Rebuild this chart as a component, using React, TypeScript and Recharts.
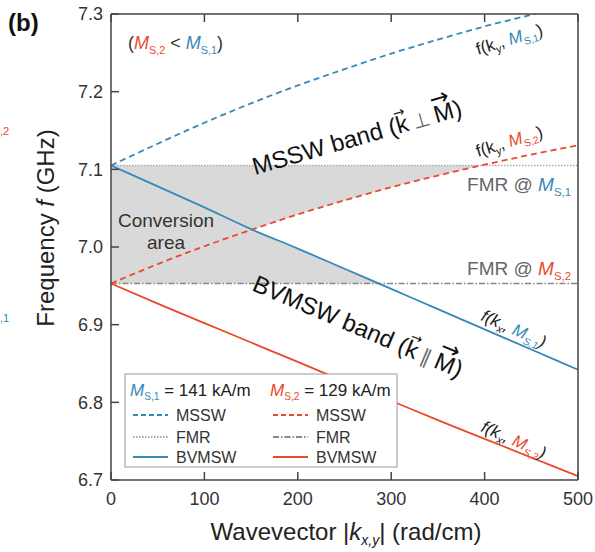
import React from 'react';
import { ComposedChart, Line, Area, XAxis, YAxis } from 'recharts';

// wavevector grid (rad/cm)
const ks = [0, 50, 100, 150, 200, 250, 300, 350, 400, 450, 500];

// dispersion curves (GHz)
const msswM1 = [7.105, 7.133, 7.16, 7.185, 7.208, 7.229, 7.249, 7.267, 7.284, 7.299, 7.313];
const msswM2 = [6.953, 6.978, 7.001, 7.022, 7.042, 7.06, 7.077, 7.092, 7.106, 7.119, 7.131];
const bvmswM1 = [7.105, 7.078, 7.051, 7.023, 6.998, 6.972, 6.946, 6.92, 6.894, 6.868, 6.842];
const bvmswM2 = [6.953, 6.927, 6.902, 6.877, 6.852, 6.827, 6.802, 6.777, 6.753, 6.729, 6.705];

// FMR frequencies
const fmrM1 = 7.105;
const fmrM2 = 6.953;

// BVMSW(Ms1) and MSSW(Ms2) cross here, right of it the band is not shaded
const crossingK = 150;

const xTicks = [0, 100, 200, 300, 400, 500];
const yTicks = [6.7, 6.8, 6.9, 7.0, 7.1, 7.2, 7.3];

const blue = '#3589b8';
const red = '#ea4a2b';
const axisColor = '#444';
const font = '"Liberation Sans", Arial, sans-serif';
const symFont = '"DejaVu Sans", sans-serif';

const data = ks.map((k, i) => ({
  k,
  ms1: msswM1[i],
  ms2: msswM2[i],
  bv1: bvmswM1[i],
  bv2: bvmswM2[i],
  band: [fmrM2, fmrM1],
  gap: k >= crossingK ? [bvmswM1[i], msswM2[i]] : null,
  fmr1: fmrM1,
  fmr2: fmrM2,
}));

const tickStyle = { fontSize: 18, fill: '#333', fontFamily: font };

const Ms = ({ n, color, size, after }: { n: number; color: string; size: number; after?: string }) => (
  <>
    <tspan fill={color} fontStyle="italic">M</tspan>
    <tspan fill={color} fontSize={size * 0.6} dy={size * 0.25}>{`S,${n}`}</tspan>
    {after ? <tspan dy={-size * 0.25}>{after}</tspan> : null}
  </>
);

// "(k <op> M)" with vector arrows over k and M
const BandVectors = ({ op }: { op: string }) => (
  <>
    <tspan>(k</tspan>
    <tspan fontFamily={symFont} fontSize={14} dx={-12} dy={-16}>{'\u2192'}</tspan>
    <tspan fontFamily={symFont} fontSize={20} fill="#666" dx={5} dy={16}>{op}</tspan>
    <tspan dx={5}>M</tspan>
    <tspan fontFamily={symFont} fontSize={23} dx={-20} dy={-16}>{'\u2192'}</tspan>
    <tspan dx={1} dy={16}>)</tspan>
  </>
);

const LegendRow = ({ y, label, dash, color, x }: { y: number; label: string; dash?: string; color: string; x: number }) => (
  <g>
    <line x1={x} x2={x + 35} y1={y} y2={y} stroke={color} strokeWidth={1.8} strokeDasharray={dash} />
    <text x={x + 43} y={y + 6} fontSize={16} fill="#333">{label}</text>
  </g>
);

const Overlay = () => (
  <svg width={595} height={552} style={{ position: 'absolute', left: 0, top: 0, pointerEvents: 'none' }} fontFamily={font}>
    <text x={8} y={31} fontSize={24} fontWeight="bold" fill="#111">(b)</text>
    <text x={0} y={135} fontSize={11} fill={red}>,2</text>
    <text x={0} y={322} fontSize={11} fill={blue}>,1</text>

    <text x={128} y={49} fontSize={18} fill="#333">
      (<Ms n={2} color={red} size={18} after=" < " />
      <Ms n={1} color={blue} size={18} after=")" />
    </text>

    <text transform="translate(255,175) rotate(-16)" fontSize={24} fill="#111">
      MSSW band <BandVectors op={'\u22A5'} />
    </text>
    <text transform="translate(251,290) rotate(23)" fontSize={24} fill="#111">
      BVMSW band <BandVectors op={'\u2225'} />
    </text>

    <text x={166} y={227} fontSize={19} fill="#333" textAnchor="middle">Conversion</text>
    <text x={166} y={249} fontSize={19} fill="#333" textAnchor="middle">area</text>

    <text x={571} y={191} fontSize={19} fill="#666" textAnchor="end">
      FMR @ <Ms n={1} color={blue} size={19} />
    </text>
    <text x={571} y={275} fontSize={19} fill="#666" textAnchor="end">
      FMR @ <Ms n={2} color={red} size={19} />
    </text>

    <text transform="translate(478,55) rotate(-17)" fontSize={17} fill="#222">
      f(k<tspan fontSize={11} dy={4}>y</tspan><tspan dy={-4}>, </tspan><Ms n={1} color={blue} size={17} after=")" />
    </text>
    <text transform="translate(478,157) rotate(-17)" fontSize={17} fill="#222">
      f(k<tspan fontSize={11} dy={4}>y</tspan><tspan dy={-4}>, </tspan><Ms n={2} color={red} size={17} after=")" />
    </text>
    <text transform="translate(480,320) rotate(24)" fontSize={17} fill="#222" fontStyle="italic">
      f(k<tspan fontSize={11} dy={4}>x</tspan><tspan dy={-4}>, </tspan><Ms n={1} color={blue} size={17} after=")" />
    </text>
    <text transform="translate(480,431) rotate(24)" fontSize={17} fill="#222" fontStyle="italic">
      f(k<tspan fontSize={11} dy={4}>x</tspan><tspan dy={-4}>, </tspan><Ms n={2} color={red} size={17} after=")" />
    </text>

    <text x={0} y={0} transform="translate(54,228) rotate(-90)" fontSize={24} fill="#222" textAnchor="middle">
      Frequency <tspan fontStyle="italic">f</tspan> (GHz)
    </text>
    <text x={346} y={540} fontSize={24} fill="#222" textAnchor="middle">
      Wavevector |<tspan fontStyle="italic">k</tspan><tspan fontSize={14} dy={5} fontStyle="italic">x,y</tspan><tspan dy={-5}>| (rad/cm)</tspan>
    </text>

    <g>
      <rect x={125} y={374} width={272} height={93} fill="#fff" stroke="#999" strokeWidth={1} />
      <text x={130} y={396} fontSize={17} fill="#222">
        <Ms n={1} color={blue} size={17} after=" = 141 kA/m" />
      </text>
      <text x={270} y={396} fontSize={17} fill="#222">
        <Ms n={2} color={red} size={17} after=" = 129 kA/m" />
      </text>
      <LegendRow x={133} y={415} label="MSSW" dash="5 3" color={blue} />
      <LegendRow x={133} y={437} label="FMR" dash="1.5 1.5" color="#aaa" />
      <LegendRow x={133} y={457} label="BVMSW" color={blue} />
      <LegendRow x={273} y={415} label="MSSW" dash="5 3" color={red} />
      <LegendRow x={273} y={437} label="FMR" dash="6 2 1.5 2" color="#888" />
      <LegendRow x={273} y={457} label="BVMSW" color={red} />
    </g>
  </svg>
);

export default function App() {
  return (
    <div style={{ position: 'absolute', left: 0, top: 0, width: 595, height: 552, background: '#fff' }}>
      <ComposedChart width={595} height={552} data={data} margin={{ top: 13, right: 16, bottom: 0, left: 0 }}>
        <XAxis
          dataKey="k"
          type="number"
          domain={[0, 500]}
          ticks={xTicks}
          height={72}
          tickSize={-8}
          tickMargin={20}
          tick={tickStyle}
          stroke={axisColor}
          strokeWidth={1.5}
        />
        <XAxis
          xAxisId="top"
          dataKey="k"
          type="number"
          orientation="top"
          domain={[0, 500]}
          ticks={xTicks}
          height={1}
          tickSize={-8}
          tickFormatter={() => ''}
          stroke={axisColor}
          strokeWidth={1.5}
        />
        <YAxis
          type="number"
          domain={[6.7, 7.3]}
          ticks={yTicks}
          allowDataOverflow
          width={111}
          tickSize={-8}
          tickMargin={16}
          tick={tickStyle}
          tickFormatter={(v: number) => v.toFixed(1)}
          stroke={axisColor}
          strokeWidth={1.5}
        />
        <YAxis
          yAxisId="right"
          orientation="right"
          type="number"
          domain={[6.7, 7.3]}
          ticks={yTicks}
          width={1}
          tickSize={-8}
          tickFormatter={() => ''}
          stroke={axisColor}
          strokeWidth={1.5}
        />
        <Area dataKey="band" type="linear" fill="#d9d9d9" fillOpacity={1} stroke="none" isAnimationActive={false} />
        <Area dataKey="gap" type="monotone" fill="#fff" fillOpacity={1} stroke="none" isAnimationActive={false} />
        <Line dataKey="fmr1" type="linear" stroke="#aaa" strokeWidth={1.5} strokeDasharray="1.5 1.5" dot={false} isAnimationActive={false} />
        <Line dataKey="fmr2" type="linear" stroke="#888" strokeWidth={1.3} strokeDasharray="6 2 1.5 2" dot={false} isAnimationActive={false} />
        <Line dataKey="ms1" type="monotone" stroke={blue} strokeWidth={1.8} strokeDasharray="6 4" dot={false} isAnimationActive={false} />
        <Line dataKey="ms2" type="monotone" stroke={red} strokeWidth={1.8} strokeDasharray="6 4" dot={false} isAnimationActive={false} />
        <Line dataKey="bv1" type="monotone" stroke={blue} strokeWidth={1.8} dot={false} isAnimationActive={false} />
        <Line dataKey="bv2" type="monotone" stroke={red} strokeWidth={1.8} dot={false} isAnimationActive={false} />
      </ComposedChart>
      <Overlay />
    </div>
  );
}
